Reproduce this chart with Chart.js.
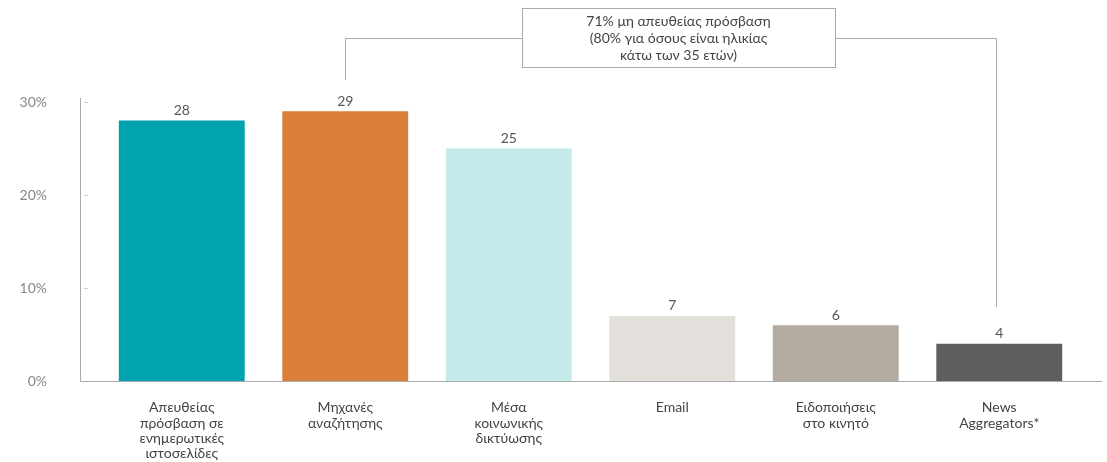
<!DOCTYPE html>
<html>
<head>
<meta charset="utf-8">
<script src="https://cdn.jsdelivr.net/npm/chart.js@4"></script>
<style>
  html, body { margin: 0; padding: 0; background: #fff; }
  #wrap { width: 1107px; height: 462px; position: relative; }
</style>
</head>
<body>
<div id="wrap"><canvas id="accessChart"></canvas></div>
<script>
// chart data
const categories = [
  ['Απευθείας', 'πρόσβαση σε', 'ενημερωτικές', 'ιστοσελίδες'],
  ['Μηχανές', 'αναζήτησης'],
  ['Μέσα', 'κοινωνικής', 'δικτύωσης'],
  ['Email'],
  ['Ειδοποιήσεις', 'στο κινητό'],
  ['News', 'Aggregators*']
];
const values = [28, 29, 25, 7, 6, 4];
const barColors = ['#00A3AE', '#DB803B', '#C4EAEA', '#E3DFDB', '#B3AB9F', '#5E5E5E'];
const yTicks = [0, 10, 20, 30];
const noteLines = ['71% μη απευθείας πρόσβαση', '(80% για όσους είναι ηλικίας', 'κάτω των 35 ετών)'];
const noteFrom = 1; // bracket from category index
const noteTo = 5;   // bracket to category index

const FONT = 'Lato, "Open Sans", sans-serif';

// axis lines, value labels and the bracket note
const decorations = {
  id: 'decorations',
  afterDatasetsDraw(chart) {
    const ctx = chart.ctx;
    const area = chart.chartArea;
    const y = chart.scales.y;
    const x = chart.scales.x;
    const axisX = area.left - 20;

    ctx.save();
    ctx.strokeStyle = '#aaa';
    ctx.lineWidth = 1;
    ctx.beginPath();
    ctx.moveTo(axisX + 0.5, y.getPixelForValue(30) - 4);
    ctx.lineTo(axisX + 0.5, y.getPixelForValue(0) + 0.5);
    ctx.lineTo(area.right + 21, y.getPixelForValue(0) + 0.5);
    ctx.stroke();

    ctx.strokeStyle = '#ccc';
    yTicks.slice(1).forEach(t => {
      const py = Math.round(y.getPixelForValue(t)) + 0.5;
      ctx.beginPath();
      ctx.moveTo(axisX + 4, py);
      ctx.lineTo(axisX + 8, py);
      ctx.stroke();
    });

    // values above bars
    const meta = chart.getDatasetMeta(0);
    ctx.fillStyle = '#555';
    ctx.font = '14px ' + FONT;
    ctx.textAlign = 'center';
    ctx.textBaseline = 'bottom';
    meta.data.forEach((bar, i) => {
      ctx.fillText(values[i], bar.x, bar.y - 3);
    });

    // bracket note
    const boxL = 522, boxR = 835, boxT = 8, boxB = 67;
    const midY = 38.5;
    const leftX = Math.round(x.getPixelForValue(noteFrom)) + 0.5;
    const rightX = Math.round(x.getPixelForValue(noteTo)) - 2.5;
    ctx.strokeStyle = '#aaa';
    ctx.beginPath();
    ctx.moveTo(leftX, 80);
    ctx.lineTo(leftX, midY);
    ctx.lineTo(boxL, midY);
    ctx.moveTo(boxR, midY);
    ctx.lineTo(rightX, midY);
    ctx.lineTo(rightX, 307);
    ctx.stroke();
    ctx.strokeRect(boxL + 0.5, boxT + 0.5, boxR - boxL, boxB - boxT);

    ctx.fillStyle = '#444';
    ctx.font = '14px ' + FONT;
    ctx.textBaseline = 'middle';
    noteLines.forEach((line, i) => {
      ctx.fillText(line, (boxL + boxR) / 2, 21 + i * 17);
    });
    ctx.restore();
  }
};

const ctx = document.getElementById('accessChart').getContext('2d');

new Chart(ctx, {
  type: 'bar',
  data: {
    labels: categories,
    datasets: [{
      data: values,
      backgroundColor: barColors,
      borderWidth: 0,
      barPercentage: 0.77,
      categoryPercentage: 1
    }]
  },
  options: {
    responsive: true,
    maintainAspectRatio: false,
    animation: false,
    layout: { padding: { top: 102, right: 26, left: 0, bottom: 0 } },
    plugins: {
      legend: { display: false },
      tooltip: { enabled: false }
    },
    scales: {
      x: {
        grid: { display: false },
        border: { display: false },
        ticks: {
          color: '#444',
          font: { family: FONT, size: 14, lineHeight: 1.1 },
          padding: 11,
          maxRotation: 0,
          autoSkip: false
        },
        afterFit(scale) { scale.height = 81; }
      },
      y: {
        min: 0,
        max: 30,
        grid: { display: false, drawTicks: false },
        border: { display: false },
        afterBuildTicks(scale) { scale.ticks = yTicks.map(v => ({ value: v })); },
        ticks: {
          color: '#888',
          font: { family: FONT, size: 14 },
          padding: 53,
          callback: v => v + '%'
        },
        afterFit(scale) { scale.width = 100; }
      }
    }
  },
  plugins: [decorations]
});
</script>
</body>
</html>
